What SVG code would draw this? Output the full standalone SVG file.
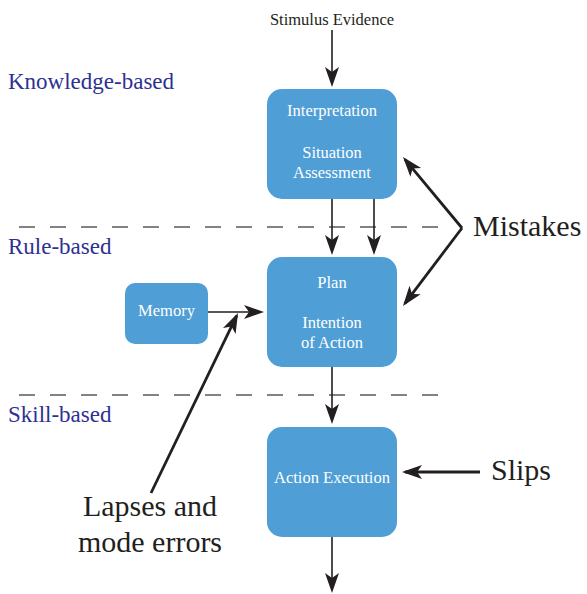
<svg xmlns="http://www.w3.org/2000/svg" width="587" height="594" viewBox="0 0 587 594">
<defs>
<style>
.box{fill:#4f9ed6;}
.bt{font-family:"Liberation Serif","Times New Roman",serif;font-size:16.5px;fill:#ffffff;text-anchor:middle;}
.lvl{font-family:"Liberation Serif","Times New Roman",serif;font-size:23px;fill:#2e3192;}
.big{font-family:"Liberation Serif","Times New Roman",serif;font-size:30px;fill:#231f20;}
.thin{stroke:#231f20;stroke-width:1.6;fill:none;marker-end:url(#ah);}
.thick{stroke:#231f20;stroke-width:2.8;fill:none;marker-end:url(#ah);}
.dash{stroke:#5a5a5a;stroke-width:1.5;stroke-dasharray:16 15;fill:none;}
</style>
<marker id="ah" markerUnits="userSpaceOnUse" markerWidth="22" markerHeight="16" refX="17" refY="7" orient="auto" overflow="visible">
<path d="M0,0 L20,7 L0,14 L5,7 Z" fill="#231f20"/>
</marker>
</defs>
<rect width="587" height="594" fill="#ffffff"/>
<g id="levels">
<text class="lvl" x="8" y="89">Knowledge-based</text>
<text class="lvl" x="8" y="254">Rule-based</text>
<text class="lvl" x="8" y="422">Skill-based</text>
<line class="dash" x1="19" y1="227" x2="445" y2="227"/>
<line class="dash" x1="19" y1="395" x2="445" y2="395"/>
</g>
<g id="stimulus">
<text x="332" y="25" font-family="Liberation Serif, Times New Roman, serif" font-size="16.5" fill="#231f20" text-anchor="middle">Stimulus Evidence</text>
</g>
<g id="interpretation">
<rect class="box" x="267" y="89" width="130" height="110" rx="15"/>
<text class="bt" x="332" y="116">Interpretation</text>
<text class="bt" x="332" y="158">Situation</text>
<text class="bt" x="332" y="178">Assessment</text>
</g>
<g id="plan">
<rect class="box" x="267" y="257" width="130" height="110" rx="15"/>
<text class="bt" x="332" y="288">Plan</text>
<text class="bt" x="332" y="328">Intention</text>
<text class="bt" x="332" y="348">of Action</text>
</g>
<g id="memory">
<rect class="box" x="125" y="283" width="83" height="61" rx="10"/>
<text class="bt" x="166.5" y="316">Memory</text>
</g>
<g id="execution">
<rect class="box" x="267" y="427" width="130" height="110" rx="15"/>
<text class="bt" x="332" y="483">Action Execution</text>
</g>
<g id="mistakes-label">
<text class="big" x="473" y="236">Mistakes</text>
</g>
<g id="slips-label">
<text class="big" x="491" y="480">Slips</text>
</g>
<g id="lapses-label">
<text class="big" x="150" y="516" text-anchor="middle">Lapses and</text>
<text class="big" x="150" y="552" text-anchor="middle">mode errors</text>
</g>
<g id="connectors">
<line class="thin" x1="332" y1="30" x2="332" y2="84"/>
<line class="thin" x1="332" y1="199" x2="332" y2="252"/>
<line class="thin" x1="374" y1="199" x2="374" y2="252"/>
<line class="thin" x1="332" y1="367" x2="332" y2="421"/>
<line class="thin" x1="332" y1="537" x2="332" y2="590"/>
<line class="thin" x1="208" y1="312" x2="261" y2="312"/>
<line class="thick" x1="151" y1="493" x2="236.7" y2="315.7"/>
<polyline class="thick" points="462,228 404.9,159.3"/>
<polyline class="thick" points="462,228 404.8,303.6"/>
<line class="thick" x1="480" y1="472" x2="405" y2="472"/>
</g>
</svg>
